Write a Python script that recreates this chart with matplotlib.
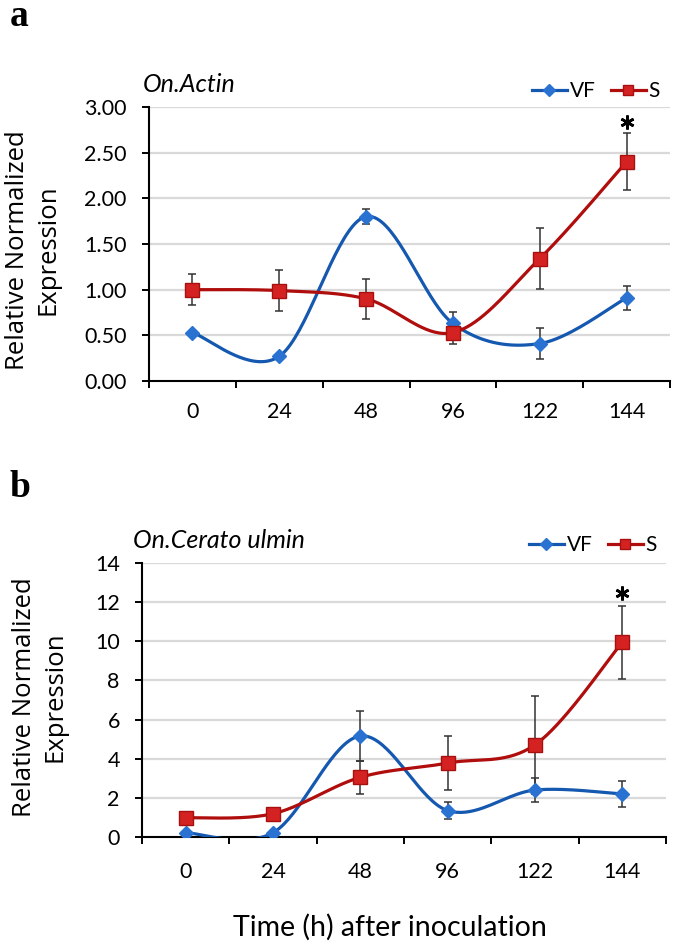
import numpy as np
import matplotlib
matplotlib.use("Agg")
import matplotlib.pyplot as plt
from matplotlib.lines import Line2D
from matplotlib.ticker import FixedLocator, FormatStrFormatter

# ---------------- data ----------------
categories = ['0', '24', '48', '96', '122', '144']

a_vf = [0.53, 0.27, 1.80, 0.63, 0.41, 0.91]
a_vf_err = [0.02, 0.02, 0.08, 0.13, 0.17, 0.13]
a_s = [1.00, 0.99, 0.90, 0.53, 1.34, 2.40]
a_s_err = [0.17, 0.22, 0.22, 0.12, 0.33, 0.31]
a_star = 2.84

b_vf = [0.22, 0.22, 5.16, 1.35, 2.40, 2.20]
b_vf_err = [0.05, 0.05, 1.27, 0.45, 0.62, 0.65]
b_s = [0.98, 1.19, 3.05, 3.78, 4.71, 9.95]
b_s_err = [0.05, 0.27, 0.83, 1.40, 2.50, 1.86]
b_star = 12.45

a_yticks = [0.0, 0.5, 1.0, 1.5, 2.0, 2.5, 3.0]
b_yticks = [0, 2, 4, 6, 8, 10, 12, 14]

# ---------------- style ----------------
W, H = 675, 948
BLUE_LINE = '#1558B0'
BLUE_MK = '#2A72D2'
RED_LINE = '#B00D0D'
RED_MK = '#D42222'
ERR = '#333333'
GRID = '#D9D9D9'
TICKFONT = 'Lato'
LABELFONT = 'Open Sans'


def smooth(xs, ys, n=40):
    """Excel-like smoothed line (Catmull-Rom Bezier) through the data points."""
    P = np.column_stack([xs, ys]).astype(float)
    out = []
    t = np.linspace(0, 1, n)[:, None]
    for i in range(len(P) - 1):
        p0 = P[i - 1] if i > 0 else P[i]
        p1, p2 = P[i], P[i + 1]
        p3 = P[i + 2] if i + 2 < len(P) else P[i + 1]
        c1 = p1 + (p2 - p0) / 6.0
        c2 = p2 - (p3 - p1) / 6.0
        seg = ((1 - t) ** 3) * p1 + 3 * ((1 - t) ** 2) * t * c1 + 3 * (1 - t) * t ** 2 * c2 + t ** 3 * p2
        out.append(seg if i == 0 else seg[1:])
    S = np.vstack(out)
    return S[:, 0], S[:, 1]


def frac_rect(l, r, top, bot):
    return [l / W, 1 - bot / H, (r - l) / W, (bot - top) / H]


fig = plt.figure(figsize=(W / 100, H / 100), dpi=100)


def panel(rect, vf, vf_err, s, s_err, star, yticks, fmt, xpad):
    ax = fig.add_axes(rect)
    x = np.arange(len(categories))
    ax.set_xlim(-0.5, len(categories) - 0.5)
    ax.set_ylim(yticks[0], yticks[-1])
    for yv in yticks[1:]:
        ax.axhline(yv, color=GRID, lw=1.6, zorder=0)
    # error bars
    ax.errorbar(x, vf, yerr=vf_err, fmt='none', ecolor=ERR, elinewidth=1.1,
                capsize=3, capthick=1.1, zorder=2)
    ax.errorbar(x, s, yerr=s_err, fmt='none', ecolor=ERR, elinewidth=1.1,
                capsize=3, capthick=1.1, zorder=2)
    # smooth lines
    sx, sy = smooth(x, vf)
    ax.plot(sx, sy, color=BLUE_LINE, lw=2.3, zorder=3, solid_capstyle='round')
    ax.plot(x, vf, ls='none', marker='D', ms=7.5, mfc=BLUE_MK, mec=BLUE_MK, zorder=4)
    sx, sy = smooth(x, s)
    ax.plot(sx, sy, color=RED_LINE, lw=2.3, zorder=5, solid_capstyle='round')
    ax.plot(x, s, ls='none', marker='s', ms=9.5, mfc=RED_MK, mec='#A81010', mew=1.0, zorder=6)
    # asterisk
    ax.plot([x[-1]], [star], ls='none', marker=(6, 2, 0), ms=10, mew=1.9,
            color='black', zorder=7, clip_on=False)
    # axes styling
    for sp in ['top', 'right']:
        ax.spines[sp].set_visible(False)
    for sp in ['left', 'bottom']:
        ax.spines[sp].set_color('black')
        ax.spines[sp].set_linewidth(1.5)
    ax.set_yticks(yticks)
    ax.yaxis.set_major_formatter(FormatStrFormatter(fmt))
    ax.set_xticks(x)
    ax.set_xticklabels(categories)
    ax.xaxis.set_minor_locator(FixedLocator(np.arange(-0.5, len(categories), 1.0)))
    ax.tick_params(axis='x', which='major', length=0, pad=xpad)
    ax.tick_params(axis='x', which='minor', length=5, width=1.4, direction='out', color='black')
    ax.tick_params(axis='y', which='major', length=5, width=1.4, direction='out', pad=11, color='black')
    for lab in ax.get_xticklabels() + ax.get_yticklabels():
        lab.set_fontfamily(TICKFONT)
        lab.set_fontsize(15.5)
        lab.set_color('black')
    return ax


ax_a = panel(frac_rect(149, 670, 107, 381), a_vf, a_vf_err, a_s, a_s_err, a_star,
             a_yticks, '%.2f', 15)
ax_b = panel(frac_rect(142, 666, 563, 837), b_vf, b_vf_err, b_s, b_s_err, b_star,
             b_yticks, '%d', 18)

handles = [
    Line2D([], [], color=BLUE_LINE, lw=2.3, marker='D', ms=6, mfc=BLUE_MK, mec=BLUE_MK),
    Line2D([], [], color=RED_LINE, lw=2.3, marker='s', ms=7.5, mfc=RED_MK, mec='#A81010'),
]


def legend(xr, yc):
    fig.legend(handles, ['VF', 'S'], loc='center right',
               bbox_to_anchor=(xr / W, 1 - yc / H), bbox_transform=fig.transFigure,
               ncol=2, frameon=False, handlelength=1.65, handletextpad=0.15,
               columnspacing=0.75, borderpad=0, borderaxespad=0,
               prop={'family': TICKFONT, 'size': 15})


legend(660, 91)
legend(657, 545)

# titles
fig.text(143 / W, 1 - 85 / H, 'On.Actin', fontfamily=TICKFONT, fontstyle='italic',
         fontsize=18, ha='left', va='center')
fig.text(133 / W, 1 - 540 / H, 'On.Cerato ulmin', fontfamily=TICKFONT, fontstyle='italic',
         fontsize=18, ha='left', va='center')

# panel letters
fig.text(10 / W, 1 - 26 / H, 'a', fontfamily='Liberation Serif', fontweight='bold',
         fontsize=27, ha='left', va='baseline')
fig.text(10 / W, 1 - 497 / H, 'b', fontfamily='Liberation Serif', fontweight='bold',
         fontsize=27, ha='left', va='baseline')

# y labels
fig.text(33 / W, 1 - 250 / H, 'Relative Normalized\nExpression', rotation=90,
         fontfamily=LABELFONT, fontsize=18.5, ha='center', va='center',
         multialignment='center', linespacing=1.3)
fig.text(40 / W, 1 - 697 / H, 'Relative Normalized\nExpression', rotation=90,
         fontfamily=LABELFONT, fontsize=18.5, ha='center', va='center',
         multialignment='center', linespacing=1.3)

# x label
fig.text(390 / W, 1 - 927 / H, 'Time (h) after inoculation', fontfamily=TICKFONT,
         fontsize=20.5, ha='center', va='center')

fig.savefig('out.png', dpi=100)
